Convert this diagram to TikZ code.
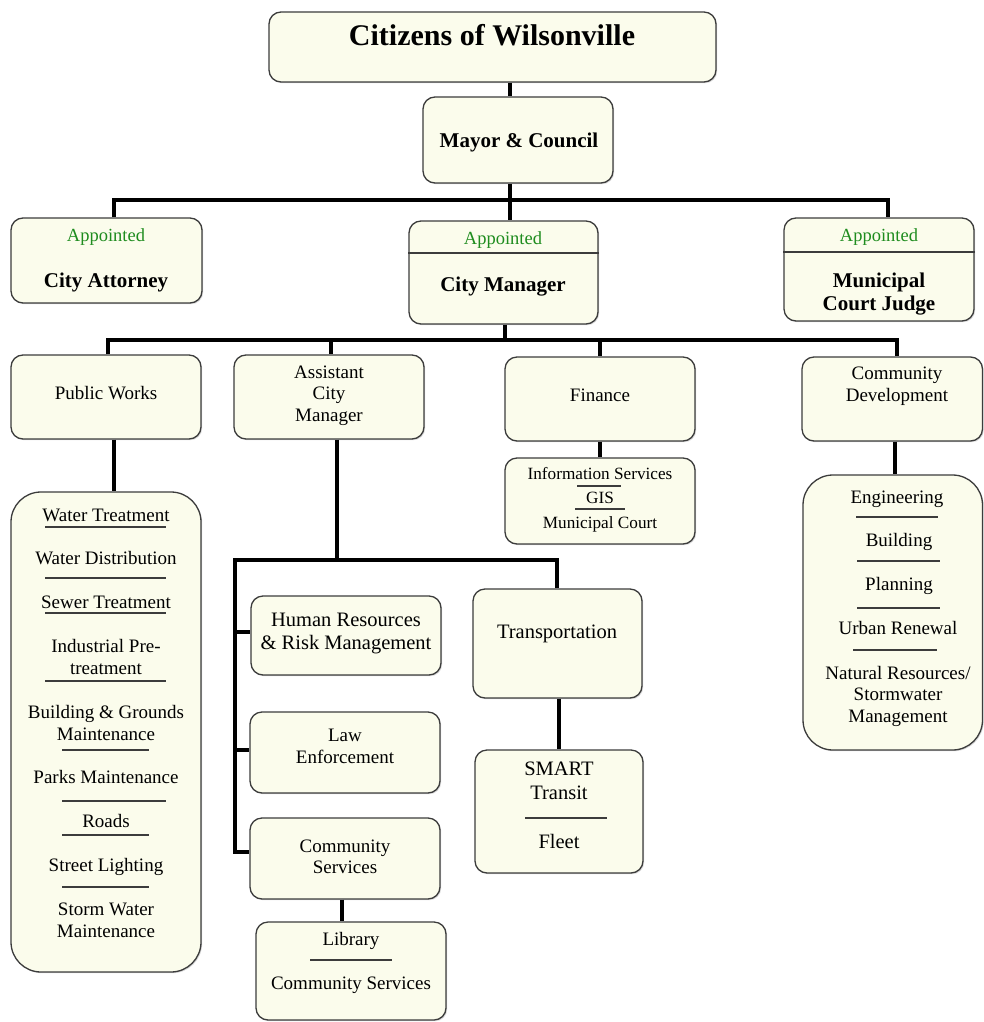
\documentclass[tikz,border=0pt]{standalone}
\usepackage{fontspec}
\setmainfont{Liberation Serif}
\usetikzlibrary{fit,shadows}
\definecolor{boxfill}{RGB}{251,252,236}
\definecolor{boxdraw}{RGB}{60,60,60}
\definecolor{sepcol}{RGB}{60,60,60}
\definecolor{appgreen}{RGB}{30,140,30}
\tikzset{
  box/.style={draw=boxdraw, line width=1.3pt, fill=boxfill, rounded corners=12pt, inner sep=0pt,
    drop shadow={shadow xshift=1.2pt, shadow yshift=-1.2pt, opacity=0.3}},
  listbox/.style={box, rounded corners=30pt},
  conn/.style={line width=4.4pt, draw=black},
  sepline/.style={line width=1.2pt, draw=sepcol},
  t/.style={anchor=mid, inner sep=0pt, font=\fontsize{19}{22}\selectfont},
  ts/.style={anchor=mid, inner sep=0pt, font=\fontsize{17.2}{20}\selectfont},
  tl/.style={anchor=mid, inner sep=0pt, font=\fontsize{20.5}{24}\selectfont},
  tb/.style={anchor=mid, inner sep=0pt, font=\fontsize{21}{25}\selectfont\bfseries},
  ttitle/.style={anchor=mid, inner sep=0pt, font=\fontsize{30}{36}\selectfont\bfseries},
  tapp/.style={anchor=mid, inner sep=0pt, text=appgreen, font=\fontsize{18.5}{22}\selectfont},
}
\begin{document}
\begin{tikzpicture}[x=1pt,y=-1pt]
\useasboundingbox[fill=white] (0,0) rectangle (984,1022);

% ---------- boxes ----------
\node[box, fit={(269,12) (716,82)}] (cit) {};
\node[box, fit={(423,97) (613,183)}] (mayor) {};
\node[box, fit={(11,218) (202,303)}] (atty) {};
\node[box, fit={(409,221) (598,324)}] (cm) {};
\node[box, fit={(784,218) (974,321)}] (judge) {};
\node[box, fit={(11,355) (201,439)}] (pw) {};
\node[box, fit={(234,355) (424,439)}] (acm) {};
\node[box, fit={(505,357) (695,441)}] (fin) {};
\node[box, fit={(802,357) (982.5,441)}] (cd) {};
\node[listbox, fit={(11,492) (201,972)}] (pwl) {};
\node[box, fit={(505,458) (695,544)}] (is) {};
\node[listbox, fit={(803,475) (982.5,750)}] (cdl) {};
\node[box, fit={(251,596) (441,675)}] (hr) {};
\node[box, fit={(250,712) (440,793)}] (law) {};
\node[box, fit={(250,818) (440,899)}] (cs) {};
\node[box, fit={(256,922) (446,1020)}] (lib) {};
\node[box, fit={(473,589) (642,698)}] (trans) {};
\node[box, fit={(475,750) (643,873)}] (smart) {};

% ---------- connector coordinates ----------
\coordinate (b1) at (510,200);
\coordinate (xa) at (114,200);
\coordinate (xj) at (888,200);
\coordinate (b2) at (505,340);
\coordinate (xpw) at (108,340);
\coordinate (xacm) at (331,340);
\coordinate (xfin) at (600,340);
\coordinate (xcd) at (897,340);
\coordinate (xpwl) at (114,460);
\coordinate (xis) at (600,450);
\coordinate (xcdl) at (895,460);
\coordinate (c3) at (337,560);
\coordinate (c3l) at (235,560);
\coordinate (c3r) at (557,560);
\coordinate (thr) at (235,632);
\coordinate (tlaw) at (235,750);
\coordinate (tcs) at (235,852);
\coordinate (xlib) at (342,910);
\coordinate (xsm) at (559,720);

% ---------- connectors ----------
\draw[conn] (cit.south -| b1) -- (mayor.north -| b1);
\draw[conn] (mayor.south -| b1) -- (cm.north -| b1);
\draw[conn] (atty.north -| xa) -- (xa) -- (xj) -- (judge.north -| xj);
\draw[conn] (cm.south -| b2) -- (b2);
\draw[conn] (pw.north -| xpw) -- (xpw) -- (xcd) -- (cd.north -| xcd);
\draw[conn] (xacm) -- (acm.north -| xacm);
\draw[conn] (xfin) -- (fin.north -| xfin);
\draw[conn] (pw.south -| xpwl) -- (pwl.north -| xpwl);
\draw[conn] (fin.south -| xis) -- (is.north -| xis);
\draw[conn] (cd.south -| xcdl) -- (cdl.north -| xcdl);
\draw[conn] (acm.south -| c3) -- (c3);
\draw[conn] (trans.north -| c3r) -- (c3r) -- (c3l) -- (tcs) -- (tcs -| cs.west);
\draw[conn] (thr) -- (thr -| hr.west);
\draw[conn] (tlaw) -- (tlaw -| law.west);
\draw[conn] (cs.south -| xlib) -- (lib.north -| xlib);
\draw[conn] (trans.south -| xsm) -- (smart.north -| xsm);

% ---------- dividers inside boxes ----------
\draw[line width=1.3pt, draw=boxdraw] (cm.west |- 0,253) -- (cm.east |- 0,253);
\draw[line width=1.3pt, draw=boxdraw] (judge.west |- 0,252) -- (judge.east |- 0,252);

% ---------- separators in lists ----------
\draw[sepline] (45,527) -- (166,527);
\draw[sepline] (45,578) -- (166,578);
\draw[sepline] (45,613) -- (166,613);
\draw[sepline] (45,681) -- (166,681);
\draw[sepline] (62,750) -- (149,750);
\draw[sepline] (62,801) -- (166,801);
\draw[sepline] (62,835) -- (149,835);
\draw[sepline] (62,887) -- (149,887);
\draw[sepline] (577,486) -- (621,486);
\draw[sepline] (575,509) -- (625,509);
\draw[sepline] (856,517) -- (938,517);
\draw[sepline] (857,561) -- (940,561);
\draw[sepline] (857,608) -- (940,608);
\draw[sepline] (853,650) -- (937,650);
\draw[sepline] (310,960) -- (392,960);
\draw[sepline] (525,818) -- (607,818);

\node[ttitle] (citt) at (492,43) {Citizens of Wilsonville};

\begin{scope}[yshift=-3pt]
% ---------- texts: top ----------
\node[tb] (mayort) at (519,142) {Mayor \& Council};
\node[tapp] (attya) at (106,236) {Appointed};
\node[tb] (attyt) at (106,282) {City Attorney};
\node[tapp] (cma) at (503,239) {Appointed};
\node[tb] (cmt) at (503,286) {City Manager};
\node[tapp] (judgea) at (879,236) {Appointed};
\node[tb] (judget1) at (879,282) {Municipal};
\node[tb] (judget2) at (879,305) {Court Judge};

% ---------- second level ----------
\node[t] (pwt) at (106,394) {Public Works};
\node[t] (acmt1) at (329,373) {Assistant};
\node[t] (acmt2) at (329,394) {City};
\node[t] (acmt3) at (329,416) {Manager};
\node[t] (fint) at (600,396) {Finance};
\node[t] (cdt1) at (897,374) {Community};
\node[t] (cdt2) at (897,396) {Development};

% ---------- Public Works list ----------
\node[t] (pw1) at (106,516) {Water Treatment};
\node[t] (pw2) at (106,559) {Water Distribution};
\node[t] (pw3) at (106,603) {Sewer Treatment};
\node[t] (pw4a) at (106,647) {Industrial Pre-};
\node[t] (pw4b) at (106,669) {treatment};
\node[t] (pw5a) at (106,713) {Building \& Grounds};
\node[t] (pw5b) at (106,735) {Maintenance};
\node[t] (pw6) at (106,778) {Parks Maintenance};
\node[t] (pw7) at (106,822) {Roads};
\node[t] (pw8) at (106,866) {Street Lighting};
\node[t] (pw9a) at (106,910) {Storm Water};
\node[t] (pw9b) at (106,932) {Maintenance};

% ---------- Finance sub ----------
\node[ts] (is1) at (600,474) {Information Services};
\node[ts] (is2) at (600,498) {GIS};
\node[ts] (is3) at (600,523) {Municipal Court};

% ---------- Community Development list ----------
\node[t] (cd1) at (897,498) {Engineering};
\node[t] (cd2) at (899,541) {Building};
\node[t] (cd3) at (899,585) {Planning};
\node[t] (cd4) at (898,629) {Urban Renewal};
\node[t] (cd5a) at (898,674) {Natural Resources/};
\node[t] (cd5b) at (898,695) {Stormwater};
\node[t] (cd5c) at (898,717) {Management};

% ---------- ACM branch ----------
\node[tl] (hrt1) at (346,621) {Human Resources};
\node[tl] (hrt2) at (346,644) {\& Risk Management};
\node[t] (lawt1) at (345,736) {Law};
\node[t] (lawt2) at (345,758) {Enforcement};
\node[t] (cst1) at (345,847) {Community};
\node[t] (cst2) at (345,868) {Services};
\node[t] (libt1) at (351,940) {Library};
\node[t] (libt2) at (351,984) {Community Services};

% ---------- Transportation ----------
\node[tl] (transt) at (557,633) {Transportation};
\node[tl] (sm1) at (559,770) {SMART};
\node[tl] (sm2) at (559,794) {Transit};
\node[tl] (sm3) at (559,843) {Fleet};
\end{scope}
\end{tikzpicture}
\end{document}
